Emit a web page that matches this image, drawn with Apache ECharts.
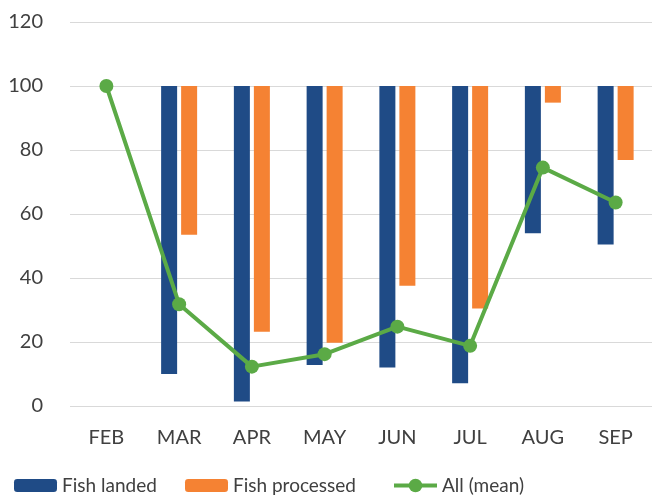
<!DOCTYPE html>
<html>
<head>
<meta charset="utf-8">
<script src="https://cdn.jsdelivr.net/npm/echarts@6/dist/echarts.min.js"></script>
<style>
  html, body { margin: 0; padding: 0; background: #fff; }
  #chart { width: 657px; height: 500px; }
</style>
</head>
<body>
<div id="chart"></div>
<script>
// data (index, 100 = base)
var months = ["FEB", "MAR", "APR", "MAY", "JUN", "JUL", "AUG", "SEP"]
var fishLanded = [100, 10, 1.4, 12.8, 12, 7.1, 54, 50.5]
var fishProcessed = [100, 53.5, 23.2, 19.8, 37.6, 30.5, 94.8, 76.9]
var allMean = [100, 31.8, 12.3, 16.2, 24.8, 18.8, 74.5, 63.6]
var yTicks = { min: 0, max: 120, interval: 20 }

var baseLevel = 100
var textColor = "#404040"
var font = "Lato, 'Open Sans', sans-serif"

// bars hang from 100 down to the value: transparent base + visible part
function hangHeight(arr) {
  return arr.map(function (v) { return baseLevel - v })
}

var chart = echarts.init(document.getElementById("chart"))

function legendAt(left, name, h) {
  return {
    data: [name],
    left: left,
    bottom: 0,
    itemWidth: 43,
    itemHeight: h || 13,
    itemGap: 0,
    lineStyle: { width: 4 },
    textStyle: { color: textColor, fontSize: 19, fontFamily: font },
    selectedMode: false,
  }
}

chart.setOption({
  animation: false,
  legend: [
    legendAt(9, "Fish landed"),
    legendAt(180, "Fish processed"),
    legendAt(387, "All (mean)", 17),
  ],
  grid: {
    left: 70,
    right: 5,
    top: 22,
    bottom: 94,
  },
  xAxis: {
    type: "category",
    data: months,
    axisLine: { show: false },
    axisTick: { show: false },
    axisLabel: { color: textColor, fontSize: 20, fontFamily: font, margin: 22 },
  },
  yAxis: {
    type: "value",
    min: yTicks.min,
    max: yTicks.max,
    interval: yTicks.interval,
    axisLine: { show: false },
    axisTick: { show: false },
    axisLabel: { color: textColor, fontSize: 20, fontFamily: font, margin: 27 },
    splitLine: { lineStyle: { color: "#d9d9d9", width: 1 } },
  },
  series: [
    {
      name: "landedBase",
      type: "bar",
      stack: "landed",
      data: fishLanded,
      barWidth: 16,
      barGap: "25%",
      itemStyle: { color: "transparent" },
      silent: true,
    },
    {
      name: "Fish landed",
      type: "bar",
      stack: "landed",
      data: hangHeight(fishLanded),
      barWidth: 16,
      barGap: "25%",
      itemStyle: { color: "#1F4B86" },
    },
    {
      name: "processedBase",
      type: "bar",
      stack: "processed",
      data: fishProcessed,
      barWidth: 16,
      barGap: "25%",
      itemStyle: { color: "transparent" },
      silent: true,
    },
    {
      name: "Fish processed",
      type: "bar",
      stack: "processed",
      data: hangHeight(fishProcessed),
      barWidth: 16,
      barGap: "25%",
      itemStyle: { color: "#F58233" },
    },
    {
      name: "All (mean)",
      type: "line",
      data: allMean,
      symbol: "circle",
      symbolSize: 14,
      lineStyle: { color: "#5BAA46", width: 4 },
      itemStyle: { color: "#5BAA46" },
      z: 5,
    },
  ],
})
</script>
</body>
</html>
